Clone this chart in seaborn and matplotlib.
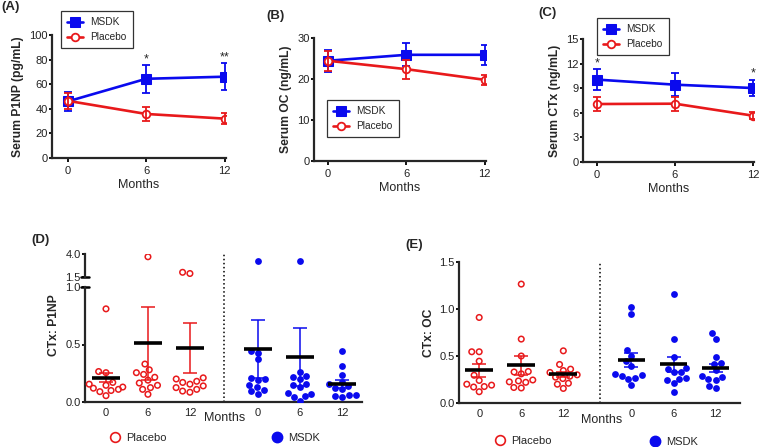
import numpy as np
import pandas as pd
import matplotlib
matplotlib.use('Agg')
import matplotlib.pyplot as plt
from matplotlib.lines import Line2D
import seaborn as sns

# ---- data ----
months = [0, 6, 12]
month_labels = ['0', '6', '12']

# (A) serum P1NP, mean and SEM
p1np_msdk = [46, 64.4, 66.1]
p1np_msdk_sem = [8, 11.2, 10.8]
p1np_placebo = [46.5, 35.8, 32]
p1np_placebo_sem = [6.5, 6, 4.5]
p1np_stars = ['', '*', '**']

# (B) serum OC
oc_msdk = [24.45, 25.9, 25.9]
oc_msdk_sem = [2.7, 2.85, 2.5]
oc_placebo = [24.45, 22.4, 19.8]
oc_placebo_sem = [2.5, 2.35, 1.2]

# (C) serum CTx
ctx_msdk = [10.05, 9.43, 9.02]
ctx_msdk_sem = [1.27, 1.42, 1.0]
ctx_placebo = [7.07, 7.11, 5.65]
ctx_placebo_sem = [0.84, 0.85, 0.4]
ctx_stars = ['*', '', '*']

# (D) CTx : P1NP, individual subjects
cp_placebo = [
    [0.81, 0.265, 0.255, 0.17, 0.145, 0.13, 0.12, 0.11, 0.10, 0.09, 0.055, 0.155],
    [3.7, 0.33, 0.28, 0.255, 0.24, 0.215, 0.19, 0.165, 0.145, 0.125, 0.11, 0.067],
    [1.88, 2.01, 0.21, 0.20, 0.18, 0.17, 0.155, 0.14, 0.125, 0.11, 0.095, 0.085],
]
cp_msdk = [
    [3.24, 0.44, 0.43, 0.37, 0.21, 0.20, 0.19, 0.15, 0.13, 0.105, 0.095, 0.07],
    [3.24, 0.26, 0.225, 0.215, 0.20, 0.16, 0.145, 0.13, 0.08, 0.07, 0.055, 0.045, 0.01],
    [0.44, 0.31, 0.235, 0.17, 0.16, 0.14, 0.125, 0.11, 0.06, 0.05, 0.06, 0.045],
]
cp_placebo_mean = [0.21, 0.51, 0.47]
cp_placebo_sem = [0.04, 0.32, 0.215]
cp_msdk_mean = [0.46, 0.39, 0.16]
cp_msdk_sem = [0.255, 0.255, 0.034]

# (E) CTx : OC
co_placebo = [
    [0.91, 0.545, 0.545, 0.445, 0.295, 0.24, 0.20, 0.19, 0.17, 0.175, 0.12],
    [1.265, 0.68, 0.50, 0.33, 0.335, 0.31, 0.245, 0.235, 0.225, 0.22, 0.16, 0.165],
    [0.555, 0.41, 0.36, 0.345, 0.325, 0.30, 0.285, 0.275, 0.26, 0.21, 0.2, 0.155],
]
co_msdk = [
    [1.02, 0.945, 0.56, 0.50, 0.445, 0.395, 0.30, 0.305, 0.29, 0.27, 0.26, 0.195],
    [1.155, 0.685, 0.49, 0.365, 0.37, 0.325, 0.33, 0.27, 0.26, 0.24, 0.21, 0.12],
    [0.75, 0.685, 0.49, 0.425, 0.42, 0.35, 0.28, 0.285, 0.25, 0.255, 0.18, 0.16],
]
co_placebo_mean = [0.35, 0.40, 0.305]
co_placebo_sem = [0.07, 0.10, 0.03]
co_msdk_mean = [0.455, 0.41, 0.37]
co_msdk_sem = [0.075, 0.08, 0.04]

BLUE = '#0a0aee'
RED = '#e8191b'

sns.set_style('ticks')
plt.rcParams['font.family'] = ['Liberation Sans', 'DejaVu Sans']
plt.rcParams['axes.linewidth'] = 1.6
plt.rcParams['xtick.major.width'] = 1.3
plt.rcParams['ytick.major.width'] = 1.3
plt.rcParams['xtick.major.size'] = 3
plt.rcParams['ytick.major.size'] = 2.5
plt.rcParams['ytick.major.pad'] = 0.6
plt.rcParams['xtick.major.pad'] = 3
plt.rcParams['xtick.labelsize'] = 8
plt.rcParams['ytick.labelsize'] = 8

W, H = 760, 447
fig = plt.figure(figsize=(W / 100, H / 100), dpi=100)


def box(l, t, r, b):
    return [l / W, 1 - b / H, (r - l) / W, (b - t) / H]


def clean(ax):
    for s in ['top', 'right']:
        ax.spines[s].set_visible(False)
    ax.tick_params(colors='black', labelcolor='#222222')


def time_course(ax, msdk, msdk_sem, plac, plac_sem, ylim, yticks, ylabel, xlim, stars=None):
    sns.lineplot(x=months, y=msdk, ax=ax, color=BLUE, lw=1.9, marker='s', markersize=7,
                 markeredgecolor=BLUE, label='MSDK', zorder=3)
    ax.errorbar(months, msdk, yerr=msdk_sem, fmt='none', ecolor=BLUE, elinewidth=1.3,
                capsize=3, capthick=1.3, zorder=2)
    sns.lineplot(x=months, y=plac, ax=ax, color=RED, lw=1.9, marker='o', markersize=5.5,
                 markerfacecolor='white', markeredgecolor=RED, markeredgewidth=1.3,
                 label='Placebo', zorder=4)
    ax.errorbar(months, plac, yerr=plac_sem, fmt='none', ecolor=RED, elinewidth=1.3,
                capsize=3, capthick=1.3, zorder=4)
    if stars:
        for m, v, e, s in zip(months, msdk, msdk_sem, stars):
            if s:
                ax.annotate(s, (m, v + e), xytext=(0, 0), textcoords='offset points',
                            ha='center', va='bottom', fontsize=9)
    ax.set_xlim(*xlim)
    ax.set_ylim(*ylim)
    ax.set_yticks(yticks)
    ax.set_xticks(months)
    ax.set_xticklabels(month_labels)
    ax.set_xlabel('Months', fontsize=9, labelpad=2)
    ax.set_ylabel(ylabel, fontsize=8.7, fontweight='bold', labelpad=4)
    clean(ax)


def leg(ax, x, y):
    h, l = ax.get_legend_handles_labels()
    lg = ax.legend(h, l, loc='upper left', bbox_to_anchor=(x / W, 1 - y / H),
                   bbox_transform=fig.transFigure, fontsize=7.3, frameon=True, fancybox=False,
                   edgecolor='black', handlelength=1.6, handletextpad=0.7, borderpad=0.6,
                   labelspacing=0.5, borderaxespad=0)
    lg.get_frame().set_linewidth(0.9)


axA = fig.add_axes(box(52, 35, 226, 158))
time_course(axA, p1np_msdk, p1np_msdk_sem, p1np_placebo, p1np_placebo_sem,
            (0, 100), [0, 20, 40, 60, 80, 100], 'Serum P1NP (pg/mL)', (-1.2, 12.1), p1np_stars)
leg(axA, 61, 11)

axB = fig.add_axes(box(314, 38, 486, 161))
time_course(axB, oc_msdk, oc_msdk_sem, oc_placebo, oc_placebo_sem,
            (0, 30), [0, 10, 20, 30], 'Serum OC (ng/mL)', (-1.07, 12.1))
leg(axB, 327, 100)

axC = fig.add_axes(box(583, 39, 754, 162))
time_course(axC, ctx_msdk, ctx_msdk_sem, ctx_placebo, ctx_placebo_sem,
            (0, 15), [0, 3, 6, 9, 12, 15], 'Serum CTx (ng/mL)', (-1.08, 12.08), ctx_stars)
leg(axC, 597, 18)

# ---- scatter panels ----
plac_pos = [0, 1, 2]
msdk_pos = [3.62, 4.62, 5.62]


def long_df(values, positions):
    rows = []
    for p, vals in zip(positions, values):
        for v in vals:
            rows.append({'pos': p, 'value': v})
    return pd.DataFrame(rows, columns=['pos', 'value'])


def swarm(ax, values, positions, color, filled):
    df = long_df(values, positions)
    if filled:
        sns.swarmplot(data=df, x='pos', y='value', native_scale=True, orient='x', ax=ax,
                      color=color, size=4.9, linewidth=0, zorder=3)
    else:
        sns.swarmplot(data=df, x='pos', y='value', native_scale=True, orient='x', ax=ax,
                      color=color, facecolor='none', edgecolor=color, size=4.0,
                      linewidth=1.1, zorder=3)


def means(ax, positions, mean, sem, color):
    ax.errorbar(positions, mean, yerr=sem, fmt='none', ecolor=color, elinewidth=1.1,
                capsize=4.8, capthick=1.1, zorder=4)
    ax.hlines(mean, np.array(positions) - 0.33, np.array(positions) + 0.33,
              color='black', lw=2.6, zorder=5)


# (D) broken axis
axDt = fig.add_axes(box(85, 254, 362, 277))
axD = fig.add_axes(box(85, 287, 362, 402))

for a in (axD, axDt):
    swarm(a, cp_placebo, plac_pos, RED, False)
    swarm(a, cp_msdk, msdk_pos, BLUE, True)
    means(a, plac_pos, cp_placebo_mean, cp_placebo_sem, RED)
    means(a, msdk_pos, cp_msdk_mean, cp_msdk_sem, BLUE)
    a.set_xlim(-0.5, 6.1)
    a.set_xlabel('')
    a.set_ylabel('')
    clean(a)

axD.set_ylim(0, 1.0)
axD.set_yticks([0, 0.5, 1.0])
axD.set_yticklabels(['0.0', '0.5', '1.0'])
axD.set_xticks(plac_pos + msdk_pos)
axD.set_xticklabels(month_labels * 2)
axD.tick_params(axis='x', length=0, pad=4)
axD.set_ylabel('CTx: P1NP', fontsize=8.7, fontweight='bold')
axD.yaxis.set_label_coords(-0.09, 0.67)

axDt.set_ylim(1.5, 4.0)
axDt.set_yticks([1.5, 4.0])
axDt.set_yticklabels(['1.5', '4.0'])
axDt.spines['bottom'].set_visible(False)
axDt.set_xticks([])

# break marks
axD.plot([-0.015, 0.015], [1, 1], transform=axD.transAxes, color='black', lw=1.8, clip_on=False)
axDt.plot([-0.015, 0.015], [0, 0], transform=axDt.transAxes, color='black', lw=1.8, clip_on=False)
axD.axvline(2.8, ymin=0, ymax=1.296, color='black', ls=':', lw=1.1, clip_on=False)
fig.text(225 / W, 1 - 418 / H, 'Months', ha='center', va='center', fontsize=9)

# (E)
axE = fig.add_axes(box(459, 262, 740, 403))
swarm(axE, co_placebo, plac_pos, RED, False)
swarm(axE, co_msdk, msdk_pos, BLUE, True)
means(axE, plac_pos, co_placebo_mean, co_placebo_sem, RED)
means(axE, msdk_pos, co_msdk_mean, co_msdk_sem, BLUE)
axE.set_xlim(-0.48, 6.2)
axE.set_ylim(0, 1.5)
axE.set_yticks([0, 0.5, 1.0, 1.5])
axE.set_yticklabels(['0.0', '0.5', '1.0', '1.5'])
axE.set_xticks(plac_pos + msdk_pos)
axE.set_xticklabels(month_labels * 2)
axE.tick_params(axis='x', length=0, pad=4)
axE.set_xlabel('')
axE.set_ylabel('CTx: OC', fontsize=8.7, fontweight='bold', labelpad=3)
clean(axE)
axE.axvline(2.86, ymin=0, ymax=1.0, color='black', ls=':', lw=1.1, clip_on=False)
fig.text(602 / W, 1 - 420 / H, 'Months', ha='center', va='center', fontsize=9)

# bottom legends
open_c = Line2D([], [], marker='o', ls='', mfc='none', mec=RED, mew=1.2, ms=7)
fill_c = Line2D([], [], marker='o', ls='', mfc=BLUE, mec=BLUE, ms=7.5)
for x, y, hnd, lab in [(138, 438, open_c, 'Placebo'), (296, 438, fill_c, 'MSDK'),
                       (523, 441, open_c, 'Placebo'), (674, 442, fill_c, 'MSDK')]:
    fig.legend([hnd], [lab], loc='center', bbox_to_anchor=(x / W, 1 - y / H),
               frameon=False, fontsize=8, handlelength=1.0, handletextpad=0.5,
               borderpad=0, borderaxespad=0)

# panel letters
for x, y, t in [(1, 7, '(A)'), (266, 16, '(B)'), (538, 13, '(C)'), (31, 240, '(D)'), (405, 245, '(E)')]:
    fig.text(x / W, 1 - y / H, t, ha='left', va='center', fontsize=9.5, fontweight='bold')

fig.savefig('out.png', dpi=100)
